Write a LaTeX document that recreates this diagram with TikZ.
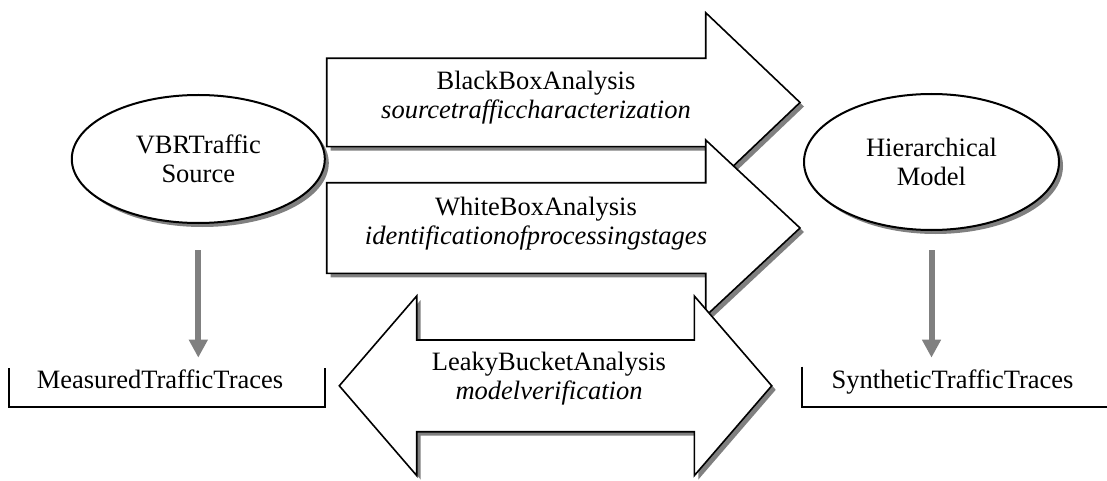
\documentclass[tikz,border=0pt]{standalone}
\usepackage{fontspec}
\setmainfont{LiberationSerif}[Extension=.ttf,UprightFont=*-Regular,ItalicFont=*-Italic,BoldFont=*-Bold,BoldItalicFont=*-BoldItalic]
\usetikzlibrary{arrows.meta,shapes.geometric,shadows}
\newcommand\diagfont{\fontsize{26.5}{29}\selectfont}

\begin{document}
\begin{tikzpicture}[x=1pt,y=-1pt,
  shadowed/.style={drop shadow={shadow xshift=4pt,shadow yshift=-4pt,fill=black!50,opacity=1}},
  bigarrow/.style={draw=black,line width=1.6pt,fill=white,line join=miter,shadowed},
  oval/.style={ellipse,draw=black,line width=2pt,fill=white,shadowed,align=center,font=\diagfont,inner sep=0pt},
  caption/.style={align=center,font=\diagfont,inner sep=0pt},
  trace/.style={font=\diagfont,inner sep=0pt,anchor=base},
  bracket/.style={draw=black,line width=1.8pt},
  flow/.style={draw=black!50,line width=6pt,-{Triangle[length=18pt,width=18pt]}}]

\useasboundingbox (0,0) rectangle (1107,481);

% analysis arrows
\path[bigarrow] (326.7,58.3) -- (705.7,58.3) -- (705.7,12.7) -- (800,102.5)
  -- (705.7,192.3) -- (705.7,146.7) -- (326.7,146.7) -- cycle;
\node[caption] (black) at (536,98) {BlackBoxAnalysis\\\itshape sourcetrafficcharacterization};

\path[bigarrow] (326.7,182.7) -- (705.7,182.7) -- (705.7,140) -- (800,228)
  -- (705.7,316) -- (705.7,273.3) -- (326.7,273.3) -- cycle;
\node[caption] (white) at (536,223.5) {WhiteBoxAnalysis\\\itshape identificationofprocessingstages};

\path[bigarrow] (339.3,385.8) -- (416.7,296) -- (416.7,340) -- (694.3,340) -- (694.3,296)
  -- (771.7,385.8) -- (694.3,475.6) -- (694.3,431.7) -- (416.7,431.7) -- (416.7,475.6) -- cycle;
\node[caption] (leaky) at (549,378.5) {LeakyBucketAnalysis\\\itshape modelverification};

% source and model
\node[oval,minimum width=253pt,minimum height=128pt] (src) at (198.3,159) {VBRTraffic\\Source};
\node[oval,minimum width=255pt,minimum height=136pt] (mdl) at (931.5,162) {Hierarchical\\Model};

% trace outputs
\node[trace] (meas) at (160,388.5) {MeasuredTrafficTraces};
\draw[bracket] (9.3,368) |- (325,406.7) -- (325,368);
\node[trace] (synth) at (952.5,388.5) {SyntheticTrafficTraces};
\draw[bracket] (801.7,366.7) |- (1107,406.7);

\draw[flow,shorten <=26pt,shorten >=12pt] (src.south) -- (src.south |- meas.north);
\draw[flow,shorten <=19pt,shorten >=12pt] (mdl.south) -- (mdl.south |- synth.north);
\end{tikzpicture}
\end{document}
